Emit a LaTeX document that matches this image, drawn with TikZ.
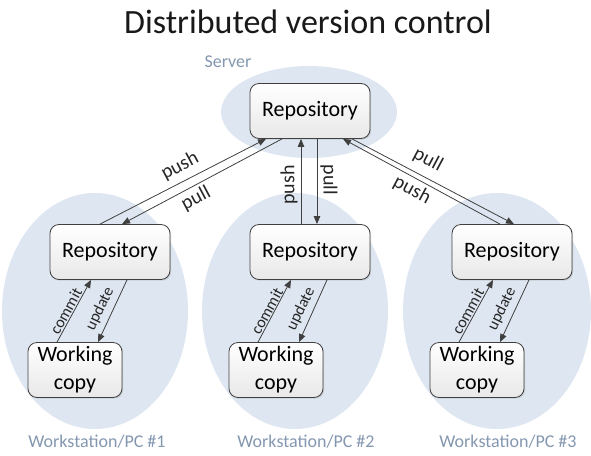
\documentclass[tikz,border=0pt]{standalone}
\usepackage{fontspec}
\setmainfont{Carlito}
\usetikzlibrary{arrows.meta,shapes.geometric,calc,shadows}
\definecolor{zonefill}{RGB}{222,231,241}
\definecolor{zonetext}{RGB}{132,151,176}
\definecolor{linec}{RGB}{64,64,64}
\begin{document}
\begin{tikzpicture}[x=1pt,y=-1pt,
  zonest/.style={ellipse, fill=zonefill, inner sep=0pt},
  boxst/.style={draw=linec, line width=0.8pt, rounded corners=9pt, top color=white, bottom color=gray!18,
    minimum height=55pt, font=\fontsize{22}{28}\selectfont, align=center, inner sep=0pt,
    drop shadow={shadow xshift=1.2pt, shadow yshift=-1.2pt, opacity=0.25}},
  repobox/.style={boxst, minimum width=120pt},
  wcbox/.style={boxst, minimum width=94pt},
  conn/.style={draw=linec, line width=0.8pt, -{Triangle[length=8pt,width=6.5pt]}},
  lbl/.style={font=\fontsize{20}{24}\selectfont, text=black!85, inner sep=0pt},
  slbl/.style={font=\fontsize{16}{19}\selectfont, text=black!85, inner sep=0pt},
  zlbl/.style={font=\fontsize{18}{22}\selectfont, text=zonetext, inner sep=0pt}]
\useasboundingbox (0,0) rectangle (591,455);

% zones
\node[zonest, minimum width=176pt, minimum height=92pt] (zs) at (309,112) {};
\node[zonest, minimum width=186pt, minimum height=236pt] (z1) at (95,311) {};
\node[zonest, minimum width=186pt, minimum height=236pt] (z2) at (295,311) {};
\node[zonest, minimum width=188pt, minimum height=236pt] (z3) at (497,311) {};

% texts
\node[font=\fontsize{34}{40}\selectfont, text=black!90, inner sep=0pt] (title) at (308,22) {Distributed version control};
\node[zlbl] (lserver) at (228,62) {Server};
\node[zlbl] (lws1) at (97,442) {Workstation/PC \#1};
\node[zlbl] (lws2) at (306,442) {Workstation/PC \#2};
\node[zlbl] (lws3) at (508,442) {Workstation/PC \#3};

% boxes
\node[repobox] (srepo) at (310,111) {Repository};
\node[repobox] (repo1) at (110,252) {Repository};
\node[repobox] (repo2) at (310,252) {Repository};
\node[repobox] (repo3) at (512,252) {Repository};
\node[wcbox] (wc1) at (75,370) {Working\\copy};
\node[wcbox] (wc2) at (276,370) {Working\\copy};
\node[wcbox] (wc3) at (477,370) {Working\\copy};

% server links
\draw[conn] ($(repo1.north)+(-10,0)$) -- ($(srepo.south)+(-44,0)$);
\draw[conn] ($(srepo.south)+(-28,0)$) -- ($(repo1.north)+(12,0)$);
\draw[conn] ($(repo2.north)+(-9,0)$) -- ($(srepo.south)+(-9,0)$);
\draw[conn] ($(srepo.south)+(7,0)$) -- ($(repo2.north)+(7,0)$);
\draw[conn] ($(srepo.south)+(42,0)$) -- ($(repo3.north)+(2,0)$);
\draw[conn] ($(repo3.north)+(-12,0)$) -- ($(srepo.south)+(33,0)$);

% local links
\foreach \i in {1,2,3}{
  \draw[conn] ($(wc\i.north)+(-18,0)$) -- ($(repo\i.south)+(-19,0)$);
  \draw[conn] ($(repo\i.south)+(17,0)$) -- ($(wc\i.north)+(23,0)$);
  \node[slbl, rotate=61] (lcommit\i) at ($(wc\i)+(-9,-59)$) {commit};
  \node[slbl, rotate=64] (lupdate\i) at ($(wc\i)+(25,-61)$) {update};
}

% link labels
\node[lbl, rotate=28] (lpush1) at (180,166) {push};
\node[lbl, rotate=28] (lpull1) at (196,199) {pull};
\node[lbl, rotate=90] (lpush2) at (289,185) {push};
\node[lbl, rotate=-90] (lpull2) at (329,180) {pull};
\node[lbl, rotate=-28] (lpull3) at (428,160) {pull};
\node[lbl, rotate=-28] (lpush3) at (412,190) {push};
\end{tikzpicture}
\end{document}
